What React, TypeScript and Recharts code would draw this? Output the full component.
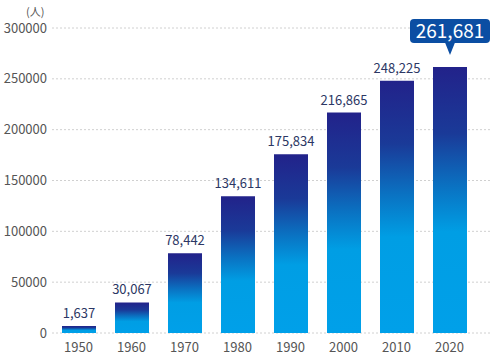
import React from 'react';
import { BarChart, Bar, XAxis, YAxis, CartesianGrid, LabelList } from 'recharts';

const years = ['1950', '1960', '1970', '1980', '1990', '2000', '2010', '2020'];
const people = [1637, 30067, 78442, 134611, 175834, 216865, 248225, 261681];
const yTicks = [0, 50000, 100000, 150000, 200000, 250000, 300000];
const unitLabel = '(人)';

const data = years.map((year, i) => ({ year, people: people[i] }));
const lastIndex = people.length - 1;
const font = '"Noto Sans CJK JP", "Noto Sans", sans-serif';

// value above each bar, the latest one gets the blue callout
const ValueLabel = (props: any) => {
  const { x, y, width, value, index } = props;
  const cx = x + width / 2;
  const text = Number(value).toLocaleString('en-US');
  if (index === lastIndex) {
    const boxW = 80;
    const boxTop = y - 48;
    const boxBottom = y - 24;
    return (
      <g>
        <rect x={cx - boxW / 2} y={boxTop} width={boxW} height={boxBottom - boxTop} rx={4} fill="#0b4ea3" />
        <path d={`M${cx - 5},${boxBottom - 0.5} L${cx},${y - 12} L${cx + 5},${boxBottom - 0.5} Z`} fill="#0b4ea3" />
        <text x={cx} y={boxBottom - 5} textAnchor="middle" fill="#ffffff" fontSize={19} fontFamily={font}>
          {text}
        </text>
      </g>
    );
  }
  return (
    <text x={cx} y={y - 8} textAnchor="middle" fill="#2c3764" fontSize={13} fontFamily={font}>
      {text}
    </text>
  );
};

export default function App() {
  return (
    <div style={{ position: 'absolute', left: 0, top: 0, width: 490, height: 360, background: '#fff', fontFamily: font }}>
      <div style={{ position: 'absolute', left: 26, top: 6, fontSize: 11, lineHeight: 1, color: '#555' }}>{unitLabel}</div>
      <BarChart width={490} height={360} data={data} margin={{ top: 28, right: 0, bottom: 0, left: 0 }}>
        <defs>
          <linearGradient id="barFill" x1="0" y1="0" x2="0" y2="1">
            <stop offset="0%" stopColor="#22228a" />
            <stop offset="25%" stopColor="#1a3a98" />
            <stop offset="45%" stopColor="#0a72c2" />
            <stop offset="62%" stopColor="#009ee4" />
            <stop offset="100%" stopColor="#00a0e9" />
          </linearGradient>
        </defs>
        <CartesianGrid vertical={false} stroke="#d0d0d0" strokeDasharray="2 2" />
        <XAxis
          dataKey="year"
          axisLine={false}
          tickLine={false}
          height={27}
          padding={{ left: 0, right: 14 }}
          tick={{ fill: '#555', fontSize: 13, fontFamily: font }}
          tickMargin={4}
        />
        <YAxis
          width={52}
          domain={[0, 300000]}
          ticks={yTicks}
          axisLine={false}
          tickLine={false}
          tickSize={3}
          tickMargin={2}
          tick={{ fill: '#555', fontSize: 13, fontFamily: font }}
        />
        <Bar dataKey="people" fill="url(#barFill)" barSize={34} minPointSize={7} isAnimationActive={false}>
          <LabelList dataKey="people" content={ValueLabel} />
        </Bar>
      </BarChart>
    </div>
  );
}
